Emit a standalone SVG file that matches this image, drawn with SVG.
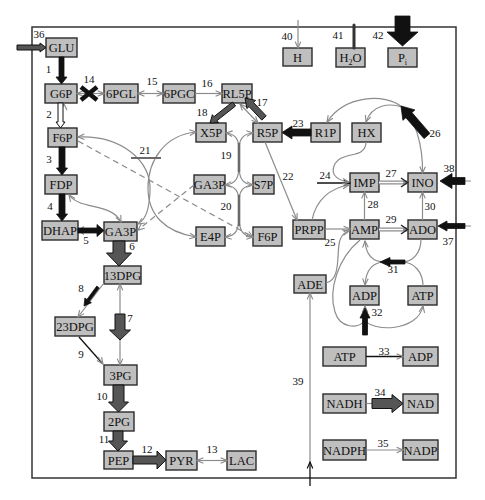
<svg xmlns="http://www.w3.org/2000/svg" width="485" height="500" viewBox="0 0 485 500">
<defs>
<style>
.n rect{fill:#bfbfbf;stroke:#2b2b2b;stroke-width:1.4}
.n text{font-family:"Liberation Serif","Times New Roman",serif;font-size:12.5px;text-anchor:middle;fill:#111}
.lb{font-family:"Liberation Serif","Times New Roman",serif;font-size:11px;text-anchor:middle;fill:#111}
.g{fill:none;stroke:#8c8c8c;stroke-width:1.2}
.k{fill:none;stroke:#111;stroke-width:1.3}
.blk{fill:#111;stroke:#111;stroke-width:0.8}
.dk{fill:#555;stroke:#111;stroke-width:1}
.ds{stroke-dasharray:6 4}
.thk{fill:none;stroke:#6a6a6a;stroke-width:2.6}
</style>
<marker id="cg" viewBox="0 0 10 10" refX="9" refY="5" markerWidth="8" markerHeight="8" markerUnits="userSpaceOnUse" orient="auto-start-reverse"><path d="M1,1.5 L9,5 L1,8.5" fill="none" stroke="#888" stroke-width="1.4"/></marker>
<marker id="ck" viewBox="0 0 10 10" refX="9" refY="5" markerWidth="8" markerHeight="8" markerUnits="userSpaceOnUse" orient="auto-start-reverse"><path d="M1,1.5 L9,5 L1,8.5" fill="none" stroke="#111" stroke-width="1.5"/></marker>
</defs>
<rect x="32" y="27" width="424" height="451" fill="none" stroke="#333" stroke-width="1.5"/>

<g id="nodes">
<g id="GLU" class="n"><rect x="46" y="38" width="31" height="19"/><text x="61.5" y="52">GLU</text></g>
<g id="G6P" class="n"><rect x="45" y="84" width="32" height="19"/><text x="61" y="98">G6P</text></g>
<g id="6PGL" class="n"><rect x="104" y="84" width="34" height="19"/><text x="121" y="98">6PGL</text></g>
<g id="6PGC" class="n"><rect x="163" y="84" width="32" height="19"/><text x="179" y="98">6PGC</text></g>
<g id="RL5P" class="n"><rect x="222" y="84" width="30" height="19"/><text x="237" y="98">RL5P</text></g>
<g id="H" class="n"><rect x="283" y="48" width="29" height="18"/><text x="297.5" y="61.5">H</text></g>
<g id="H2O" class="n"><rect x="336" y="48" width="29" height="19"/><text x="350.5" y="62">H<tspan font-size="8" dy="3">2</tspan><tspan dy="-3">O</tspan></text></g>
<g id="Pi" class="n"><rect x="388" y="48" width="29" height="19"/><text x="402.5" y="62">P<tspan font-size="8" dy="3">i</tspan></text></g>
<g id="F6P" class="n"><rect x="48" y="128" width="29" height="19"/><text x="62.5" y="142">F6P</text></g>
<g id="X5P" class="n"><rect x="196" y="123" width="30" height="19"/><text x="211" y="137">X5P</text></g>
<g id="R5P" class="n"><rect x="253" y="123" width="29" height="19"/><text x="267.5" y="137">R5P</text></g>
<g id="R1P" class="n"><rect x="311" y="123" width="29" height="19"/><text x="325.5" y="137">R1P</text></g>
<g id="HX" class="n"><rect x="352" y="123" width="29" height="19"/><text x="366.5" y="137">HX</text></g>
<g id="FDP" class="n"><rect x="45" y="175" width="32" height="19"/><text x="61" y="189">FDP</text></g>
<g id="GA3P_2" class="n"><rect x="194" y="175" width="31" height="19"/><text x="209.5" y="189">GA3P</text></g>
<g id="S7P" class="n"><rect x="253" y="175" width="21" height="19"/><text x="263.5" y="189" style="font-size:12px">S7P</text></g>
<g id="IMP" class="n"><rect x="350" y="173" width="29" height="19"/><text x="364.5" y="187">IMP</text></g>
<g id="INO" class="n"><rect x="408" y="173" width="29" height="19"/><text x="422.5" y="187">INO</text></g>
<g id="DHAP" class="n"><rect x="42" y="221" width="36" height="19"/><text x="60" y="235">DHAP</text></g>
<g id="GA3P" class="n"><rect x="104" y="222" width="33" height="19"/><text x="120.5" y="236">GA3P</text></g>
<g id="E4P" class="n"><rect x="196" y="227" width="29" height="19"/><text x="210.5" y="241">E4P</text></g>
<g id="F6P_2" class="n"><rect x="253" y="227" width="29" height="19"/><text x="267.5" y="241">F6P</text></g>
<g id="PRPP" class="n"><rect x="293" y="220" width="32" height="19"/><text x="309" y="234">PRPP</text></g>
<g id="AMP" class="n"><rect x="350" y="220" width="29" height="19"/><text x="364.5" y="234">AMP</text></g>
<g id="ADO" class="n"><rect x="408" y="220" width="29" height="19"/><text x="422.5" y="234">ADO</text></g>
<g id="13DPG" class="n"><rect x="104" y="266" width="37" height="18"/><text x="122.5" y="279.5">13DPG</text></g>
<g id="ADE" class="n"><rect x="294" y="275" width="32" height="18"/><text x="310" y="288.5">ADE</text></g>
<g id="ADP" class="n"><rect x="350" y="286" width="29" height="19"/><text x="364.5" y="300">ADP</text></g>
<g id="ATP" class="n"><rect x="408" y="286" width="29" height="19"/><text x="422.5" y="300">ATP</text></g>
<g id="23DPG" class="n"><rect x="55" y="317" width="40" height="19"/><text x="75" y="331">23DPG</text></g>
<g id="ATP_2" class="n"><rect x="323" y="347" width="43" height="19"/><text x="344.5" y="361">ATP</text></g>
<g id="ADP_2" class="n"><rect x="403" y="347" width="35" height="19"/><text x="420.5" y="361">ADP</text></g>
<g id="3PG" class="n"><rect x="104" y="365" width="33" height="20"/><text x="120.5" y="379.5">3PG</text></g>
<g id="NADH" class="n"><rect x="323" y="394" width="43" height="19"/><text x="344.5" y="408">NADH</text></g>
<g id="NAD" class="n"><rect x="403" y="394" width="35" height="19"/><text x="420.5" y="408">NAD</text></g>
<g id="2PG" class="n"><rect x="104" y="412" width="30" height="19"/><text x="119" y="426">2PG</text></g>
<g id="NADPH" class="n"><rect x="323" y="440" width="43" height="20"/><text x="344.5" y="454.5">NADPH</text></g>
<g id="NADP" class="n"><rect x="403" y="440" width="35" height="20"/><text x="420.5" y="454.5">NADP</text></g>
<g id="PEP" class="n"><rect x="104" y="451" width="29" height="18"/><text x="118.5" y="464.5">PEP</text></g>
<g id="PYR" class="n"><rect x="166" y="451" width="31" height="19"/><text x="181.5" y="465">PYR</text></g>
<g id="LAC" class="n"><rect x="227" y="451" width="29" height="19"/><text x="241.5" y="465">LAC</text></g>
</g>

<g id="connectors">
<!-- thin gray lines -->
<path class="g" d="M77,93.5 L104,93.5" marker-start="url(#cg)" marker-end="url(#cg)"/>
<path class="g" d="M138,93.5 L163,93.5" marker-start="url(#cg)" marker-end="url(#cg)"/>
<path class="g" d="M195,93.5 L222,93.5" marker-end="url(#cg)"/>
<path class="g" d="M197,460.5 L227,460.5" marker-start="url(#cg)" marker-end="url(#cg)"/>
<path class="k" d="M366,356.5 L403,356.5" marker-end="url(#cg)"/>
<path class="g" d="M366,450 L403,450" marker-end="url(#cg)"/>
<path class="g" d="M366,403.5 L373,403.5"/>
<path class="g" d="M265,142 L297,220" marker-end="url(#cg)"/>
<path class="k" d="M317,183 L350,183" marker-end="url(#ck)"/>
<path class="g" d="M325,229 L350,229" marker-end="url(#cg)"/>
<path class="g" d="M364.5,220 L364.5,192" marker-end="url(#cg)"/>
<path class="g" d="M422.5,220 L422.5,192" marker-end="url(#cg)"/>
<path class="g" d="M120,284 L120,365" marker-start="url(#cg)" marker-end="url(#cg)"/>
<path class="g" d="M104,283 L78,317" marker-end="url(#cg)"/>
<path class="k" d="M79,337 L102,363" stroke-width="1.4"/>
<path class="g" d="M98,357 L103,364" marker-end="url(#cg)"/>
<path class="g" d="M69,195 C80,210 112,203 121,222" marker-start="url(#cg)" marker-end="url(#cg)"/>
<path class="g" d="M310,462 L310,293" marker-end="url(#cg)"/>
<path class="k" d="M310,486 L310,462" marker-end="url(#ck)"/>
<path class="g" d="M298,20 L298,48" marker-end="url(#cg)"/>
<path d="M354,25 L354,48" fill="none" stroke="#333" stroke-width="3" stroke-linecap="round"/>
<path d="M465,181 L471,181 M465,226 L471,226" class="g"/>
<!-- pentose phosphate curves -->
<path class="g" d="M78,137 C120,135 152,160 150,192 C149,210 146,219 138,224" marker-start="url(#cg)" marker-end="url(#cg)"/>
<path class="g" d="M196,132 C165,135 148,160 148,188 C148,215 165,232 196,237" marker-start="url(#cg)" marker-end="url(#cg)"/>
<path class="g ds" d="M78,141 L253,237" marker-end="url(#cg)"/>
<path class="g ds" d="M194,185 L138,230" marker-end="url(#cg)"/>
<path d="M131,158 L161,158" fill="none" stroke="#6a6a6a" stroke-width="2"/>
<path class="g" d="M226,133 C236,134 239,140 239,150 L239,165 C239,178 236,184 225,185" marker-start="url(#cg)" marker-end="url(#cg)"/>
<path class="g" d="M253,133 C242,134 239,140 239,150 L239,165 C239,178 242,184 253,185" marker-start="url(#cg)" marker-end="url(#cg)"/>
<path class="thk" d="M239,143 L239,172"/>
<path class="g" d="M225,185 C236,186 239,192 239,202 L239,216 C239,230 236,236 225,237" marker-end="url(#cg)"/>
<path class="g" d="M253,185 C242,186 239,192 239,202 L239,216 C239,230 242,236 253,237" marker-end="url(#cg)"/>
<path class="thk" d="M239,195 L239,226"/>
<!-- nucleotide curves -->
<path class="g" d="M312,220 C316,200 330,188 349,185" marker-end="url(#cg)"/>
<path class="g" d="M366,142 C366,160 340,150 334,166 C330,176 340,181 349,182" marker-end="url(#cg)"/>
<path class="g" d="M326,283 C342,280 336,250 340,240 C342,234 345,232 349,231" marker-end="url(#cg)"/>
<path class="g" d="M422.5,173 C423,145 415,118 402,107" marker-start="url(#cg)"/>
<path class="g" d="M402,107 C385,93 345,95 327,122" marker-end="url(#cg)"/>
<path class="g" d="M402,107 C390,103 372,104 366,122" marker-end="url(#cg)"/>
<path class="g" d="M421,239 C421,254 412,262 402,262"/>
<path class="g" d="M423,286 C423,272 414,262 402,262"/>
<path class="g" d="M385,262 C373,262 366,256 365,241" marker-end="url(#cg)"/>
<path class="g" d="M385,262 C373,262 366,270 365,285" marker-end="url(#cg)"/>
<path class="g" d="M360,240 C338,258 328,290 335,312 C340,328 358,330 365,320"/>
<path class="g" d="M365,320 L365,306" marker-end="url(#cg)"/>
<path class="g" d="M365,320 C372,332 418,332 423,306" marker-end="url(#cg)"/>
<!-- double line arrows 27, 29 -->
<path d="M379,182.5 L407,182.5 M379,229.5 L407,229.5" fill="none" stroke="#8c8c8c" stroke-width="4"/>
<path d="M379,182.5 L403,182.5 M379,229.5 L403,229.5" fill="none" stroke="#fff" stroke-width="1.6"/>
<path d="M401,178 L407.5,182.5 L401,187 M401,225 L407.5,229.5 L401,234" fill="none" stroke="#222" stroke-width="1.4"/>
<!-- reaction 17 gray -->
<path class="g" d="M258,123 L240,104" marker-start="url(#cg)" marker-end="url(#cg)"/>
<!-- small gray chevrons -->
<path class="g" d="M61,110 L64,104 L67,110"/>
<path class="g" d="M84,226.5 L78.5,230.5 L84,234.5"/>
<!-- block arrows -->
<polygon class="dk" points="17,45 40,45 40,43 46,47.5 40,52 40,50 17,50"/>
<polygon class="blk" points="59,57 64,57 64,77 67,77 61.5,84 56,77 59,77"/>
<polygon fill="#fff" stroke="#111" stroke-width="1" points="58,103 63,103 63,122 65,122 60.5,128 56,122 58,122"/>
<polygon class="blk" points="59,147 65,147 65,168 67.5,168 62,175 56.5,168 59,168"/>
<polygon class="blk" points="59,194 65,194 65,214 67.5,214 62,221 56.5,214 59,214"/>
<polygon class="blk" points="78,228 97,228 97,224.5 104,230.5 97,236.5 97,233 78,233"/>
<polygon class="dk" points="113,241 125,241 125,253 131.5,253 119,266 106.5,253 113,253"/>
<polygon class="dk" points="115,314 125,314 125,330 130.5,330 120,340 109.5,330 115,330"/>
<polygon class="blk" points="99.2,287.9 89.36,301.25 91.37,302.73 84,306 84.93,297.99 86.94,299.47 96.8,286.1"/>
<polygon class="dk" points="113,385 124,385 124,402 128.5,402 118.5,412 108.5,402 113,402"/>
<polygon class="dk" points="113,431 123,431 123,441 127.5,441 118,451 108.5,441 113,441"/>
<polygon class="dk" points="133,456 157,456 157,451 166,460 157,469 157,464 133,464"/>
<polygon class="dk" points="372,398.5 392,398.5 392,394.5 403,403.5 392,412.5 392,408.5 372,408.5"/>
<polygon class="blk" points="311,129 292,129 292,126 282,132.5 292,139 292,136 311,136"/>
<polygon class="blk" points="465,177.5 452,177.5 452,173.5 440,181 452,188.5 452,184.5 465,184.5"/>
<polygon class="blk" points="465,223.5 447,223.5 447,221 438,226 447,231 447,228.5 465,228.5"/>
<polygon class="blk" points="405,260 390,260 390,257.5 380,262 390,266.5 390,264 405,264"/>
<polygon class="blk" points="362.5,335 367.5,335 367.5,318 370,318 365,308 360,318 362.5,318"/>
<polygon class="blk" points="430,133.4 411.9,112.5 414.9,109.9 401,106 402.9,120.3 405.9,117.7 424,138.6"/>
<polygon class="blk" points="395,16 410,16 410,32 418,32 402.5,46 387,32 395,32"/>
<polygon class="dk" points="266.2,115.9 253.4,102.4 255.6,100.4 245,98 246.9,108.6 249,106.6 261.8,120.1"/>
<polygon class="dk" points="235.55,105.96 217.05,120.6 218.6,122.6 210,123 212.4,114.7 213.95,116.7 232.45,102.04"/>
<path d="M81,87 L97,100 M81,100 L97,87" fill="none" stroke="#111" stroke-width="4.5"/>
</g>

<g id="labels">
<text class="lb" x="39" y="38">36</text>
<text class="lb" x="48.5" y="73">1</text>
<text class="lb" x="49" y="118">2</text>
<text class="lb" x="49" y="163">3</text>
<text class="lb" x="50" y="210">4</text>
<text class="lb" x="86" y="244">5</text>
<text class="lb" x="132" y="250">6</text>
<text class="lb" x="130" y="322">7</text>
<text class="lb" x="81" y="292">8</text>
<text class="lb" x="81" y="358">9</text>
<text class="lb" x="102" y="400">10</text>
<text class="lb" x="104" y="443">11</text>
<text class="lb" x="147" y="453">12</text>
<text class="lb" x="212" y="453">13</text>
<text class="lb" x="89" y="83">14</text>
<text class="lb" x="152" y="85">15</text>
<text class="lb" x="207" y="87">16</text>
<text class="lb" x="262" y="106">17</text>
<text class="lb" x="202" y="116">18</text>
<text class="lb" x="226" y="159">19</text>
<text class="lb" x="226" y="210">20</text>
<text class="lb" x="145" y="154">21</text>
<text class="lb" x="288" y="180">22</text>
<text class="lb" x="298" y="127">23</text>
<text class="lb" x="325" y="179">24</text>
<text class="lb" x="330" y="246">25</text>
<text class="lb" x="435" y="137">26</text>
<text class="lb" x="391" y="177">27</text>
<text class="lb" x="373" y="208">28</text>
<text class="lb" x="391" y="223">29</text>
<text class="lb" x="430" y="210">30</text>
<text class="lb" x="393" y="273">31</text>
<text class="lb" x="377" y="316">32</text>
<text class="lb" x="384" y="355">33</text>
<text class="lb" x="380" y="396">34</text>
<text class="lb" x="383" y="447">35</text>
<text class="lb" x="448" y="245">37</text>
<text class="lb" x="449" y="172">38</text>
<text class="lb" x="298" y="385">39</text>
<text class="lb" x="287" y="40">40</text>
<text class="lb" x="338" y="39">41</text>
<text class="lb" x="378" y="39">42</text>
</g>
</svg>
